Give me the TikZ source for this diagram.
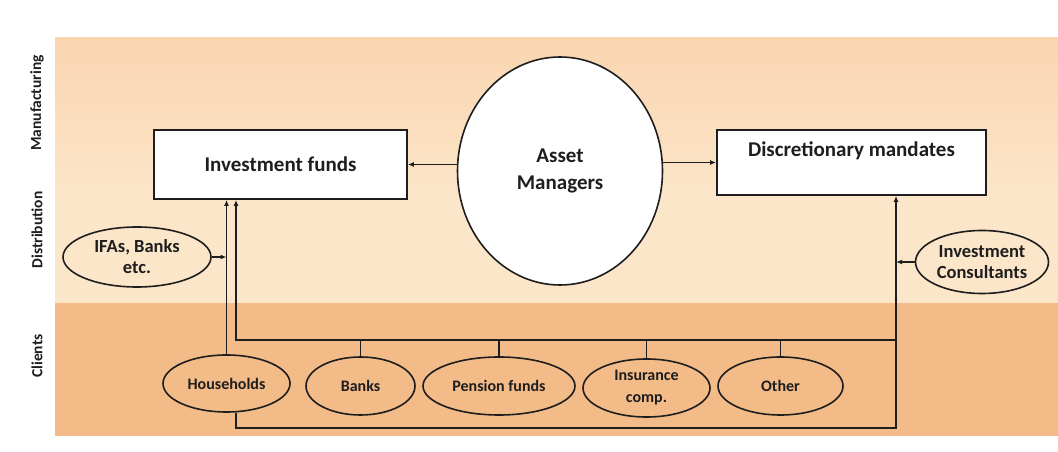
\documentclass[tikz,border=0pt]{standalone}
\usepackage{fontspec}
\setmainfont{Carlito}
\usetikzlibrary{shapes.geometric,arrows.meta}
\definecolor{manufband}{HTML}{F9D5B0}
\definecolor{distband}{HTML}{FCE6CA}
\definecolor{clientband}{HTML}{F3BB88}
\definecolor{ink}{HTML}{1E1E1E}
\tikzset{
  box/.style={draw=ink,line width=1.8pt,fill=white,rectangle,inner sep=0pt,text=ink,
    font=\fontsize{21}{25}\selectfont\bfseries},
  pool/.style={draw=ink,line width=1.6pt,ellipse,inner sep=-3pt,align=center,text=ink},
  conn/.style={draw=ink,line width=1.4pt},
  tip/.style={-{Latex[length=6pt,width=5pt]}},
  rowlabel/.style={rotate=90,text=ink,font=\fontsize{15.5}{18}\selectfont\bfseries}
}
\begin{document}
\begin{tikzpicture}[x=1pt,y=1pt]
        %% Canvas and bands
        \useasboundingbox (0,0) rectangle (1058,452);
        \fill[white] (0,0) rectangle (1058,452);
        \shade[top color=manufband,bottom color=distband] (55,250) rectangle (1058,414);
        \fill[distband] (55,149) rectangle (1058,250);
        \fill[clientband] (55,16) rectangle (1058,149);
        %% Row labels
        \node[rowlabel] (manuf) at (37,349) {Manufacturing};
        \node[rowlabel] (distr) at (37,222) {Distribution};
        \node[rowlabel] (clients) at (37,96) {Clients};
        %% Products and managers
        \node[box,minimum width=253pt,minimum height=69pt] (funds) at (280.5,287.5) {Investment funds};
        \node[box,minimum width=269pt,minimum height=65pt,text height=15pt,text depth=26pt] (mandates) at (851.5,289.5) {Discretionary mandates};
        \node[pool,fill=white,minimum width=205pt,minimum height=228pt,font=\fontsize{21}{27}\selectfont\bfseries] (managers) at (560,281) {Asset\\Managers};
        %% Distributors
        \node[pool,minimum width=148pt,minimum height=60pt,font=\fontsize{18.5}{21}\selectfont\bfseries] (ifas) at (137,195) {IFAs, Banks\\etc.};
        \node[pool,minimum width=133pt,minimum height=63pt,font=\fontsize{18.5}{21}\selectfont\bfseries] (consult) at (982,190) {Investment\\Consultants};
        %% Clients
        \begin{scope}[every node/.style={pool,minimum height=58pt,font=\fontsize{16}{22}\selectfont\bfseries}]
            \node[minimum width=127pt,minimum height=57pt] (house) at (226.5,68.5) {Households};
            \node[minimum width=109pt] (banks) at (360.5,66) {Banks};
            \node[minimum width=152pt] (pension) at (499,66) {Pension funds};
            \node[minimum width=127pt] (insure) at (646.5,64) {Insurance\\comp.};
            \node[minimum width=125pt] (other) at (780.5,66) {Other};
        \end{scope}
        %% Bus lines
        \coordinate (busL) at (236,112);
        \coordinate (busR) at (896,112);
        \coordinate (baseL) at (236,24);
        \coordinate (baseR) at (896,24);
        \draw[conn,tip] (house.north) -- (house.north |- funds.south);
        \draw[conn,tip] (busR) -- (busL) -- (busL |- funds.south);
        \foreach \c in {banks,pension,insure,other}
            \draw[conn] (\c.north) -- (\c.north |- busL);
        \draw[conn,tip] (baseL |- house.south) -- (baseL) -- (baseR) -- (baseR |- mandates.south);
        %% Side arrows
        \draw[conn,tip] (ifas.east) -- (ifas.east -| house.north);
        \draw[conn,tip] (consult.west) -- (consult.west -| baseR);
        \draw[conn,tip] (funds.east -| managers.west) -- (funds.east);
        \draw[conn,tip] (mandates.west -| managers.east) -- (mandates.west);
    \end{tikzpicture}
\end{document}
